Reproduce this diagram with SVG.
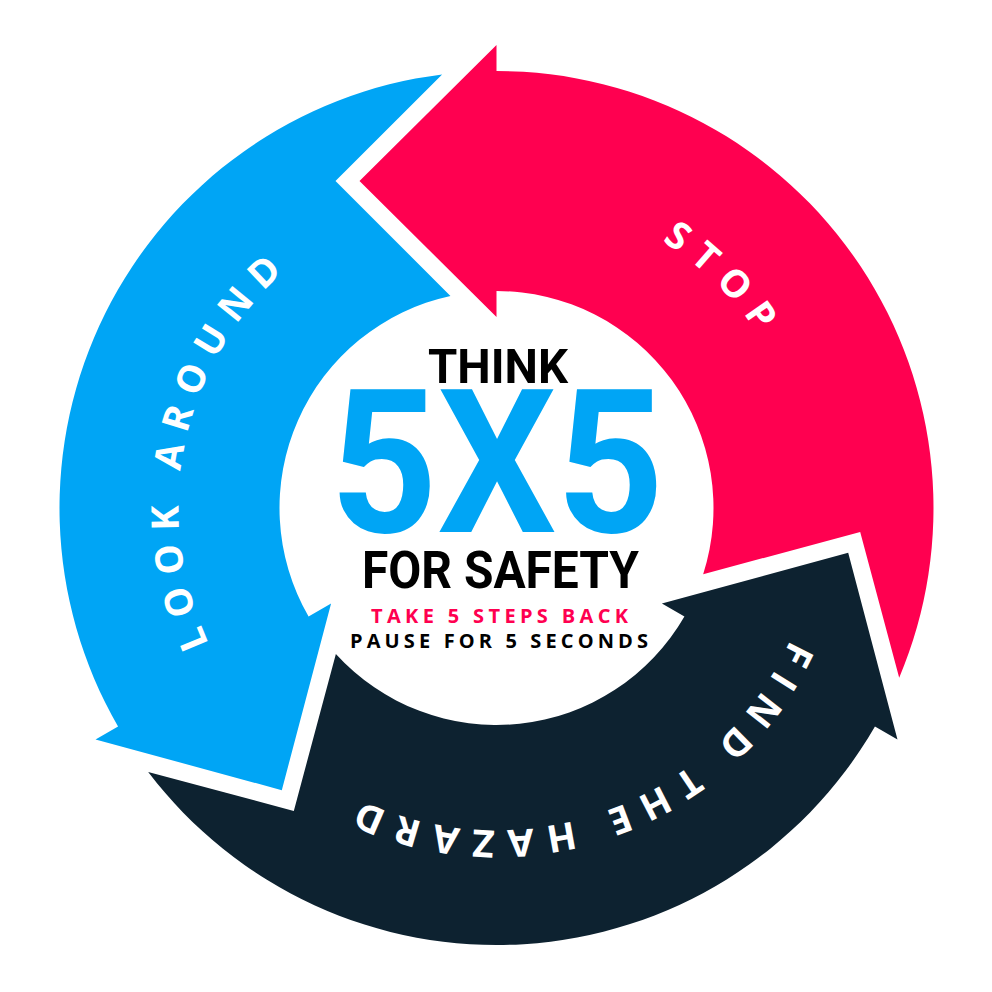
<svg xmlns="http://www.w3.org/2000/svg" width="992" height="992" viewBox="0 0 992 992">
<defs>
<path id="arrowShape" d="M402.7,169.7 A437,437 0 0 0 0,-437 L0,-463 L-137,-327 L0,-191 L0,-217 A217,217 0 0 1 206.67,66.15 L363.69,24.07 Z"/>
<path id="pStop" d="M316.4,250.8 A314,314 0 0 1 753.7,688.1"/>
<path id="pLook" d="M375.3,802.0 A318,318 0 0 1 509.8,190.3"/>
<path id="pFind" d="M814.1,454.9 A322,322 0 0 1 216.2,666.6"/>
</defs>
<style>
.lbl{font-family:"Open Sans","Liberation Sans",sans-serif;font-weight:700;font-size:38px;letter-spacing:12px;fill:#fff}
.din{font-family:Roboto,"Liberation Sans",sans-serif;font-weight:700}
.mont{font-family:"Open Sans","Liberation Sans",sans-serif;font-weight:700;font-size:20px}
</style>
<rect width="992" height="992" fill="#fff"/>
<g id="arrow-stop">
<use href="#arrowShape" transform="translate(496.5,508)" fill="#FF0050"/>
<text class="lbl"><textPath href="#pStop" startOffset="50%" text-anchor="middle">STOP</textPath></text>
</g>
<g id="arrow-find">
<use href="#arrowShape" transform="translate(496.5,508) rotate(120)" fill="#0D2230"/>
<text class="lbl"><textPath href="#pFind" startOffset="50%" text-anchor="middle">FIND THE HAZARD</textPath></text>
</g>
<g id="arrow-look">
<use href="#arrowShape" transform="translate(496.5,508) rotate(240)" fill="#00A5F5"/>
<text class="lbl"><textPath href="#pLook" startOffset="50%" text-anchor="middle">LOOK AROUND</textPath></text>
</g>
<g id="center">
<text class="din" x="428" y="383" font-size="49" textLength="140" lengthAdjust="spacingAndGlyphs" fill="#000">THINK</text>
<text class="din" x="330" y="532" font-size="200" textLength="334" lengthAdjust="spacingAndGlyphs" fill="#00A5F5">5X5</text>
<text class="din" x="362" y="588" font-size="51" textLength="277" lengthAdjust="spacingAndGlyphs" fill="#000">FOR SAFETY</text>
<text class="mont" x="371" y="623" textLength="257" fill="#FF0050">TAKE 5 STEPS BACK</text>
<text class="mont" x="350" y="648" textLength="298" fill="#000">PAUSE FOR 5 SECONDS</text>
</g>
</svg>
